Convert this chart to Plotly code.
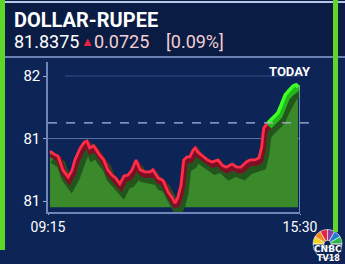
import plotly.graph_objects as go

# ---- data ----
minutes = [3, 9, 15, 22, 30, 36, 40, 48, 54, 58, 62, 68, 77, 83, 89, 95, 101, 107, 113, 119,
           125, 131, 137, 144, 152, 156, 164, 171, 179, 185, 189, 193, 198, 202, 207, 211,
           216, 219, 223, 229, 237, 244, 253, 259, 265, 274, 281, 287, 295, 301, 308, 314,
           318, 321, 327, 335, 342, 347, 353, 359, 365, 369, 372]
rate = [81.696, 81.690, 81.686, 81.660, 81.646, 81.660, 81.679, 81.702, 81.713, 81.715,
        81.702, 81.706, 81.688, 81.679, 81.660, 81.650, 81.644, 81.633, 81.648, 81.650,
        81.660, 81.679, 81.660, 81.656, 81.656, 81.660, 81.644, 81.640, 81.617, 81.606,
        81.596, 81.606, 81.631, 81.679, 81.685, 81.685, 81.698, 81.702, 81.694, 81.688,
        81.679, 81.675, 81.679, 81.669, 81.665, 81.671, 81.665, 81.665, 81.675, 81.679,
        81.679, 81.683, 81.704, 81.740, 81.750, 81.759, 81.769, 81.784, 81.804, 81.813,
        81.821, 81.823, 81.819]
prev_close = 81.750
tick_vals = [81.84, 81.72, 81.60]
tick_text = ["82", "81", "81"]
time_ticks = [0, 375]
time_labels = ["09:15", "15:30"]
base_level = 81.588

title = "DOLLAR-RUPEE"
last_price = "81.8375"
change = "0.0725"
pct = "[0.09%]"

# ---- geometry ----
W, H = 345, 264
x_range = [0, 375]
y_range = [81.579, 81.867]
px_x = (x_range[1] - x_range[0]) / 252.0
px_y = (y_range[1] - y_range[0]) / 150.0
xdom = [48 / W, 300 / W]
ydom = [1 - 212 / H, 1 - 62 / H]

# split red/green at previous close
split = next(i for i, v in enumerate(rate) if v >= prev_close)
red_x, red_y = minutes[:split + 1], rate[:split + 1]
grn_x, grn_y = minutes[split:], rate[split:]

fig = go.Figure()

# baseline + fill
fig.add_trace(go.Scatter(x=minutes, y=[base_level] * len(minutes), mode="lines",
                         line=dict(width=0), hoverinfo="skip", showlegend=False))
fig.add_trace(go.Scatter(x=minutes, y=rate, mode="lines", fill="tonexty",
                         fillcolor="#3a8a2c", line=dict(width=0), showlegend=False))

# shadow (axis 2 offset)
fig.add_trace(go.Scatter(x=minutes, y=rate, mode="lines", xaxis="x2", yaxis="y2",
                         line=dict(color="#23561d", width=9), showlegend=False))
# ribbons (axis 3 offset)
fig.add_trace(go.Scatter(x=red_x, y=red_y, mode="lines", xaxis="x3", yaxis="y3",
                         line=dict(color="#7e1026", width=6), showlegend=False))
fig.add_trace(go.Scatter(x=grn_x, y=grn_y, mode="lines", xaxis="x3", yaxis="y3",
                         line=dict(color="#22b81c", width=7), showlegend=False))
# main line (axis 4, same scale as axis 1, drawn on top)
fig.add_trace(go.Scatter(x=red_x, y=red_y, mode="lines", xaxis="x4", yaxis="y4",
                         line=dict(color="#ff2d48", width=2.8), showlegend=False))
fig.add_trace(go.Scatter(x=grn_x, y=grn_y, mode="lines", xaxis="x4", yaxis="y4",
                         line=dict(color="#3cff28", width=3.5), showlegend=False))

# CNBC peacock
fig.add_trace(go.Pie(values=[1, 1, 1, 1, 1, 1, 6], sort=False, direction="clockwise",
                     rotation=270, hole=0.25, textinfo="none", hoverinfo="skip",
                     marker=dict(colors=["#f5d31a", "#f08a1c", "#e5243b", "#8a3fa0",
                                         "#1d7fd0", "#2fb34a", "rgba(0,0,0,0)"],
                                 line=dict(color="#ffffff", width=0.6)),
                     domain=dict(x=[313 / W, 342 / W], y=[1 - 262 / H, 1 - 226 / H]),
                     showlegend=False))

axis_common = dict(showgrid=False, zeroline=False, automargin=False)
fig.update_layout(
    width=W, height=H, margin=dict(l=0, r=0, t=0, b=0, pad=0, autoexpand=False),
    paper_bgcolor="#0c2456", plot_bgcolor="rgba(0,0,0,0)",
    showlegend=False,
    font=dict(family="Roboto", color="white"),
    xaxis=dict(domain=xdom, range=x_range, tickvals=time_ticks, ticktext=time_labels,
               showline=True, linecolor="#6f86b8", linewidth=1.5, ticks="outside",
               ticklen=1, tickcolor="#9fb2d8", tickfont=dict(size=14, color="white"),
               **axis_common),
    yaxis=dict(domain=ydom, range=y_range, tickvals=tick_vals, ticktext=tick_text,
               showline=True, linecolor="#6f86b8", linewidth=1.5, ticks="outside",
               ticklen=3, tickcolor="#9fb2d8", tickfont=dict(size=15, color="white"),
               **axis_common),
    xaxis2=dict(domain=xdom, range=[x_range[0] - 3 * px_x, x_range[1] - 3 * px_x],
                overlaying="x", visible=False, **axis_common),
    yaxis2=dict(domain=ydom, range=[y_range[0] + 8 * px_y, y_range[1] + 8 * px_y],
                overlaying="y", visible=False, **axis_common),
    xaxis3=dict(domain=xdom, range=[x_range[0] - 1 * px_x, x_range[1] - 1 * px_x],
                overlaying="x", visible=False, **axis_common),
    yaxis3=dict(domain=ydom, range=[y_range[0] + 3 * px_y, y_range[1] + 3 * px_y],
                overlaying="y", visible=False, **axis_common),
    xaxis4=dict(domain=xdom, range=x_range, overlaying="x", visible=False, **axis_common),
    yaxis4=dict(domain=ydom, range=y_range, overlaying="y", visible=False, **axis_common),
)

shapes = [
    # header box
    dict(type="rect", xref="paper", yref="paper", x0=0, x1=1, y0=1 - 58 / H, y1=1,
         fillcolor="#0a1c44", line=dict(width=0), layer="below"),
    dict(type="line", xref="paper", yref="paper", x0=0, x1=1, y0=1 - 2 / H, y1=1 - 2 / H,
         line=dict(color="#b8c8e8", width=2)),
    dict(type="line", xref="paper", yref="paper", x0=0, x1=1, y0=1 - 57 / H, y1=1 - 57 / H,
         line=dict(color="#8ea6d6", width=1.5)),
    # side green bars
    dict(type="rect", xref="paper", yref="paper", x0=0, x1=5 / W, y0=1 - 250 / H, y1=1,
         fillcolor="#5ed62a", line=dict(width=0)),
    dict(type="rect", xref="paper", yref="paper", x0=333 / W, x1=338 / W, y0=1 - 232 / H, y1=1,
         fillcolor="#5ed62a", line=dict(width=0)),
    # grid lines
    dict(type="line", xref="paper", yref="y", x0=xdom[0], x1=xdom[1], y0=tick_vals[1], y1=tick_vals[1],
         line=dict(color="#5b73a8", width=1), layer="below"),
    dict(type="line", xref="paper", yref="y", x0=xdom[0] + 0.05, x1=xdom[1], y0=tick_vals[0], y1=tick_vals[0],
         line=dict(color="#33508a", width=1), layer="below"),
    dict(type="line", xref="paper", yref="y", x0=xdom[0], x1=310 / W, y0=prev_close, y1=prev_close,
         line=dict(color="#a9b9d9", width=1.2, dash="dash")),
    # right vertical line at close
    dict(type="line", xref="x", yref="paper", x0=x_range[1], x1=x_range[1], y0=ydom[0], y1=1 - 85 / H,
         line=dict(color="#8da3cf", width=1.5)),
]
fig.update_layout(shapes=shapes)

ann = [
    dict(text="<b>" + title + "</b>", x=12 / W, y=1 - 20 / H, xanchor="left", yanchor="middle",
         font=dict(size=20, color="white", family="Roboto")),
    dict(text=last_price, x=12 / W, y=1 - 42 / H, xanchor="left", yanchor="middle",
         font=dict(size=18, color="white")),
    dict(text="▲", x=79 / W, y=1 - 42 / H, xanchor="left", yanchor="middle",
         font=dict(size=13, color="#e8243c")),
    dict(text=change, x=92 / W, y=1 - 42 / H, xanchor="left", yanchor="middle",
         font=dict(size=18, color="#f4cfd3")),
    dict(text=pct, x=164 / W, y=1 - 42 / H, xanchor="left", yanchor="middle",
         font=dict(size=18, color="#f4cfd3")),
    dict(text="<b>TODAY</b>", x=313 / W, y=1 - 71 / H, xanchor="right", yanchor="middle",
         font=dict(size=13, color="white")),
    dict(text="<b>CNBC</b>", x=328 / W, y=1 - 249 / H, xanchor="center", yanchor="middle",
         font=dict(size=9, color="white", family="DejaVu Sans")),
    dict(text="<b>TV18</b>", x=328 / W, y=1 - 258 / H, xanchor="center", yanchor="middle",
         font=dict(size=8, color="white", family="DejaVu Sans")),
]
for a in ann:
    a.update(xref="paper", yref="paper", showarrow=False)
fig.update_layout(annotations=ann)

fig.write_html("out.html")
